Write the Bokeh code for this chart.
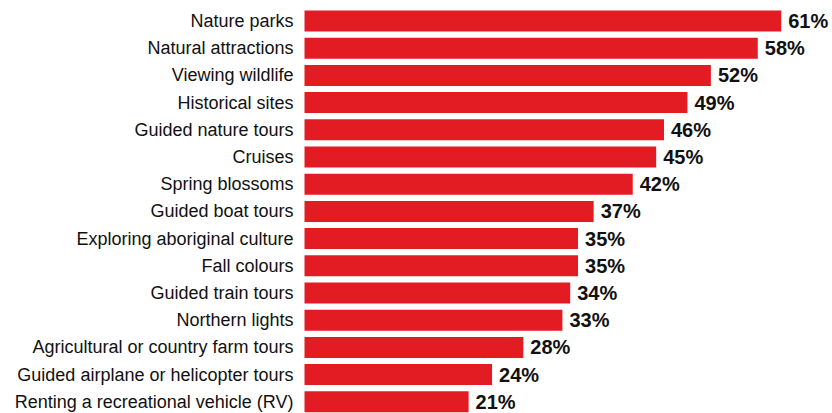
from bokeh.plotting import figure
from bokeh.models import ColumnDataSource, Range1d
from bokeh.core.properties import value
from bokeh.embed import file_html
from bokeh.resources import INLINE

categories = [
    "Nature parks", "Natural attractions", "Viewing wildlife", "Historical sites",
    "Guided nature tours", "Cruises", "Spring blossoms", "Guided boat tours",
    "Exploring aboriginal culture", "Fall colours", "Guided train tours",
    "Northern lights", "Agricultural or country farm tours",
    "Guided airplane or helicopter tours", "Renting a recreational vehicle (RV)",
]
values = [61, 58, 52, 49, 46, 45, 42, 37, 35, 35, 34, 33, 28, 24, 21]
value_labels = [f"{v}%" for v in values]

W, H = 832, 413
x0_px = 304
px_per_unit = 7.815
row0 = 20.5
row_step = 27.2

src = ColumnDataSource(dict(
    y=list(range(len(categories))),
    cat=categories,
    val=values,
    lab=value_labels,
    zero=[0] * len(values),
))

p = figure(width=W, height=H, output_backend="svg", toolbar_location=None,
           min_border=0, outline_line_color=None,
           x_range=Range1d(-x0_px / px_per_unit, (W - x0_px) / px_per_unit),
           y_range=Range1d((H - row0) / row_step, -row0 / row_step))
p.axis.visible = False
p.grid.visible = False
p.background_fill_color = "white"
p.border_fill_color = "white"

p.hbar(y="y", left=0, right="val", height=21 / row_step, source=src,
       fill_color="#E31B23", line_color=None)

p.text(x="zero", y="y", text="cat", source=src, x_offset=-11,
       text_align="right", text_baseline="middle",
       text_font=value("Liberation Sans"), text_font_size="18px",
       text_color="#111111")

p.text(x="val", y="y", text="lab", source=src, x_offset=7,
       text_align="left", text_baseline="middle",
       text_font=value("Liberation Sans"), text_font_size="20px",
       text_font_style="bold", text_color="#111111")

open("out.html", "w").write(file_html(p, INLINE))
